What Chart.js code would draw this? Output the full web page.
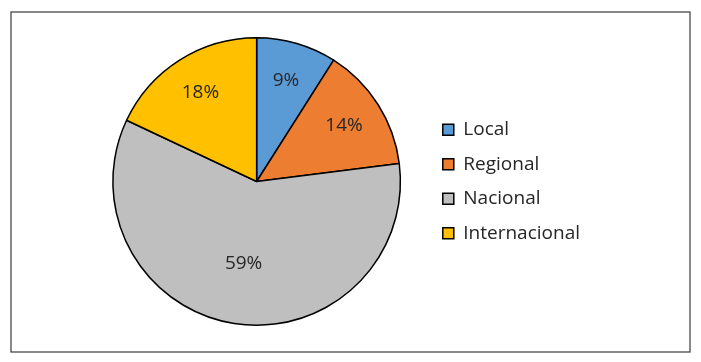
<!DOCTYPE html>
<html>
<head>
<meta charset="utf-8">
<script src="https://cdn.jsdelivr.net/npm/chart.js@4"></script>
<style>
  html, body { margin: 0; padding: 0; background: #fff; }
  #wrap { width: 701px; height: 362px; position: relative; }
</style>
</head>
<body>
<div id="wrap"><canvas id="pieChart" width="701" height="362"></canvas></div>
<script>
const categories = ['Local', 'Regional', 'Nacional', 'Internacional'];
const shares = [9, 14, 59, 18];
const sliceColors = ['#5B9BD5', '#ED7D31', '#BFBFBF', '#FFC000'];
const labelRadius = [0.73, 0.72, 0.58, 0.73];

const ctx = document.getElementById('pieChart').getContext('2d');

// frame around the whole chart
const framePlugin = {
  id: 'frame',
  beforeDraw(chart) {
    const c = chart.ctx;
    c.save();
    c.strokeStyle = '#3a3a3a';
    c.lineWidth = 1.2;
    c.strokeRect(11, 12, 679, 340);
    c.restore();
  }
};

// percentage labels inside slices
const pctLabels = {
  id: 'pctLabels',
  afterDatasetsDraw(chart) {
    const c = chart.ctx;
    const meta = chart.getDatasetMeta(0);
    c.save();
    c.font = '19px "Open Sans", sans-serif';
    c.fillStyle = '#262626';
    c.textAlign = 'center';
    c.textBaseline = 'middle';
    meta.data.forEach((arc, i) => {
      const { x, y, startAngle, endAngle, outerRadius } = arc.getProps(['x', 'y', 'startAngle', 'endAngle', 'outerRadius'], true);
      const mid = (startAngle + endAngle) / 2;
      const r = outerRadius * labelRadius[i];
      c.fillText(shares[i] + '%', x + Math.cos(mid) * r, y + Math.sin(mid) * r);
    });
    c.restore();
  }
};

new Chart(ctx, {
  type: 'pie',
  data: {
    labels: categories,
    datasets: [{
      data: shares,
      backgroundColor: sliceColors,
      borderColor: '#000',
      borderWidth: 1.5
    }]
  },
  options: {
    responsive: false,
    animation: false,
    layout: { padding: { left: 86, right: 111, top: 37, bottom: 36 } },
    plugins: {
      tooltip: { enabled: false },
      legend: {
        position: 'right',
        labels: {
          boxWidth: 11,
          boxHeight: 11,
          padding: 15.5,
          color: '#262626',
          font: { size: 19, family: '"Open Sans", sans-serif' }
        }
      }
    }
  },
  plugins: [framePlugin, pctLabels]
});
</script>
</body>
</html>
